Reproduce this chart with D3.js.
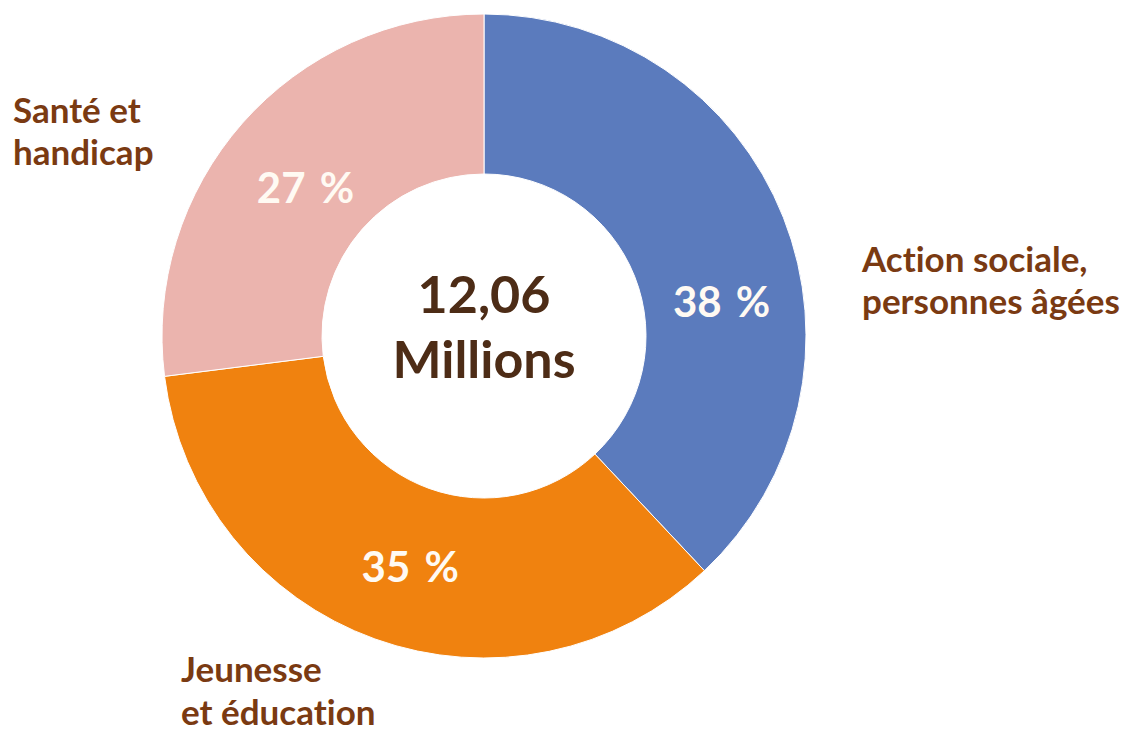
<!DOCTYPE html>
<html>
<head>
<meta charset="utf-8">
<script src="https://cdn.jsdelivr.net/npm/d3@7"></script>
<style>
  body { margin: 0; background: #fff; }
  text { font-family: Lato, "Noto Sans", sans-serif; font-weight: 700; font-variant-ligatures: none; }
</style>
</head>
<body>
<svg id="chart" width="1145" height="733"></svg>
<script>
// shares of the 12,06 M total
const categories = ["Action sociale, personnes âgées", "Jeunesse et éducation", "Santé et handicap"];
const values = [38, 35, 27];
const labelLines = [
    ["Action sociale,", "personnes âgées"],
    ["Jeunesse", "et éducation"],
    ["Santé et", "handicap"]
];
const centerLines = ["12,06", "Millions"];

const colors = ["#5B7BBD", "#F0820F", "#EBB4AE"];

const svg = d3.select('#chart');
const cx = 484, cy = 336;
const outerR = 322, innerR = 162;

const pie = d3.pie().sort(null).value(d => d);
const arcs = pie(values);

const arc = d3.arc().innerRadius(innerR).outerRadius(outerR);

const g = svg.append('g').attr('transform', `translate(${cx},${cy})`);

g.selectAll('path.slice')
    .data(arcs)
    .join('path')
    .attr('class', 'slice')
    .attr('d', arc)
    .style('fill', (d, i) => colors[i])
    .style('stroke', '#fff')
    .style('stroke-width', 1);

// percent labels: near the middle of each ring, blue one nudged down a bit
const pctRadius = [240, 243, 232];
const angleShift = [0.236, -0.037, -0.03];
g.selectAll('text.pct')
    .data(arcs)
    .join('text')
    .attr('class', 'pct')
    .attr('text-anchor', 'middle')
    .attr('dy', '0.35em')
    .attr('x', (d, i) => pctRadius[i] * Math.sin((d.startAngle + d.endAngle) / 2 + angleShift[i]))
    .attr('y', (d, i) => -pctRadius[i] * Math.cos((d.startAngle + d.endAngle) / 2 + angleShift[i]))
    .style('fill', '#FFFAF3')
    .style('font-size', '42px')
    .style('word-spacing', '4px')
    .text(d => d.data + ' %');

// center total
g.selectAll('text.center')
    .data(centerLines)
    .join('text')
    .attr('class', 'center')
    .attr('text-anchor', 'middle')
    .attr('y', (d, i) => -23 + i * 65)
    .style('fill', '#4D2C16')
    .style('font-size', '52px')
    .text(d => d);

// category labels, placed outside the ring
const labelPos = [
    { x: 862, y: 272, gap: 42 },
    { x: 181, y: 682, gap: 43 },
    { x: 13, y: 123, gap: 42 }
];
labelLines.forEach((lines, i) => {
    const t = svg.append('text')
        .attr('class', 'cat')
        .attr('x', labelPos[i].x)
        .attr('y', labelPos[i].y)
        .style('fill', '#7A3A12')
        .style('font-size', '35px');
    lines.forEach((line, j) => {
        t.append('tspan')
            .attr('x', labelPos[i].x)
            .attr('y', labelPos[i].y + j * labelPos[i].gap)
            .text(line);
    });
});
</script>
</body>
</html>
